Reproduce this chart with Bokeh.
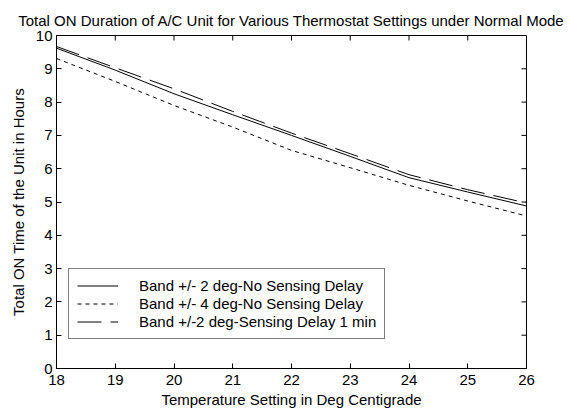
import math
from bokeh.plotting import figure
from bokeh.models import Legend, LegendItem, FixedTicker, Range1d
from bokeh.embed import file_html
from bokeh.resources import INLINE

# Thermostat set points (deg C) and total ON time of the A/C unit (hours)
temps = [18, 19, 20, 21, 22, 23, 24, 25, 26]
band2_no_delay = [9.62, 8.96, 8.25, 7.62, 7.00, 6.37, 5.73, 5.30, 4.88]
band4_no_delay = [9.31, 8.62, 7.90, 7.25, 6.55, 6.03, 5.50, 5.03, 4.58]
band2_delay_1min = [9.67, 9.03, 8.40, 7.72, 7.07, 6.45, 5.82, 5.37, 4.97]

series_labels = [
    "Band +/- 2 deg-No Sensing Delay",
    "Band +/- 4 deg-No Sensing Delay",
    "Band +/-2 deg-Sensing Delay 1 min",
]
chart_title = "Total ON Duration of A/C Unit for Various Thermostat Settings under Normal Mode"
x_ticks = [18, 19, 20, 21, 22, 23, 24, 25, 26]
y_ticks = [0, 1, 2, 3, 4, 5, 6, 7, 8, 9, 10]
x_lo, x_hi = 18, 26
y_lo, y_hi = 0, 10

FONT = "Liberation Sans"
FS = "15px"

p = figure(
    frame_width=470, frame_height=333,
    min_border_left=56, min_border_right=42,
    min_border_top=35, min_border_bottom=44,
    x_range=Range1d(x_lo, x_hi), y_range=Range1d(y_lo, y_hi),
    output_backend="svg", toolbar_location=None,
    title=chart_title,
)
p.background_fill_color = "white"
p.border_fill_color = "white"
p.outline_line_color = "black"
p.grid.visible = False

p.title.text_font = FONT
p.title.text_font_size = FS
p.title.text_font_style = "normal"
p.title.align = "center"
p.title.vertical_align = "top"
p.title.text_color = "black"
p.title.offset = 0
p.title.standoff = 9

for ax, ticks in ((p.xaxis[0], x_ticks), (p.yaxis[0], y_ticks)):
    ax.ticker = FixedTicker(ticks=ticks)
    ax.minor_tick_line_color = None
    ax.major_tick_in = 5
    ax.major_tick_out = 0
    ax.axis_line_color = "black"
    ax.major_tick_line_color = "black"
    ax.major_label_text_font = FONT
    ax.major_label_text_font_size = FS
    ax.major_label_text_color = "black"
    ax.axis_label_text_font = FONT
    ax.axis_label_text_font_size = FS
    ax.axis_label_text_font_style = "normal"
    ax.axis_label_text_color = "black"

p.xaxis[0].axis_label = "Temperature Setting in Deg Centigrade"
p.yaxis[0].axis_label = "Total ON Time of the Unit in Hours"
p.xaxis[0].major_label_standoff = 6
p.xaxis[0].axis_label_standoff = 3
p.yaxis[0].major_label_standoff = 4
p.yaxis[0].axis_label_standoff = 6

# inward tick marks along the top and right edges of the box
p.ray(x=x_ticks, y=[y_hi] * len(x_ticks), length=5, length_units="screen",
      angle=-math.pi / 2, line_color="black", line_width=1)
p.ray(x=[x_hi] * len(y_ticks), y=y_ticks, length=5, length_units="screen",
      angle=math.pi, line_color="black", line_width=1)

r1 = p.line(temps, band2_no_delay, line_color="black", line_width=1)
r2 = p.line(temps, band4_no_delay, line_color="black", line_width=1, line_dash="4 4")
r3 = p.line(temps, band2_delay_1min, line_color="black", line_width=1, line_dash="24 9")

legend = Legend(
    items=[LegendItem(label=series_labels[0], renderers=[r1]),
           LegendItem(label=series_labels[1], renderers=[r2]),
           LegendItem(label=series_labels[2], renderers=[r3])],
    location=(12, 29),
    border_line_color="black", border_line_width=1,
    background_fill_color="white", background_fill_alpha=1,
    label_text_font=FONT, label_text_font_size=FS, label_text_color="black",
    glyph_width=41, glyph_height=15, label_height=15,
    spacing=1, padding=8, margin=0, label_standoff=21,
)
p.add_layout(legend, "center")

open("out.html", "w").write(file_html(p, INLINE))
